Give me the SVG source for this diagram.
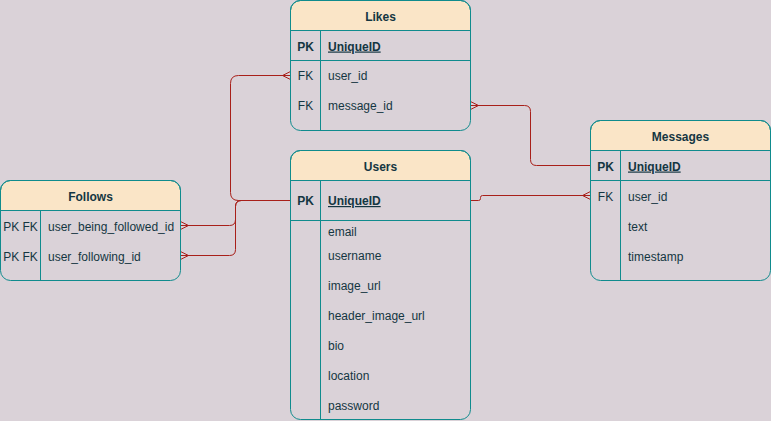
<svg xmlns="http://www.w3.org/2000/svg" width="771" height="421" viewBox="0 0 771 421">
<style>
.bg{fill:#DAD2D8}
.box{fill:none;stroke:#0F8B8D;stroke-width:1}
.hdr{fill:#FAE5C7;stroke:#0F8B8D;stroke-width:1}
.ln{stroke:#0F8B8D;stroke-width:1;fill:none}
text{font-family:"Liberation Sans",Arial,Helvetica,sans-serif;font-size:12px;fill:#143642}
.t{font-weight:bold;text-anchor:middle}
.k{text-anchor:middle}
.b{font-weight:bold}
.u{font-weight:bold;text-decoration:underline}
.e{fill:none;stroke:#A8201A;stroke-width:1}
</style>
<rect class="bg" x="0" y="0" width="771" height="421"/>

<g id="connectors">
  <path class="e" d="M290.5,200.5 L238.5,200.5 Q230.5,200.5 230.5,192.5 L230.5,83.5 Q230.5,75.5 238.5,75.5 L290.5,75.5"/>
  <path class="e" d="M290.5,71.5 L282.5,75.5 L290.5,79.5"/>
  <path class="e" d="M180.5,225.5 L229.5,225.5 Q235.5,225.5 235.5,219.5 L235.5,206.5 Q235.5,200.5 241.5,200.5 L290.5,200.5"/>
  <path class="e" d="M180.5,221.5 L188.5,225.5 L180.5,229.5"/>
  <path class="e" d="M180.5,255.5 L229.5,255.5 Q235.5,255.5 235.5,249.5 L235.5,206.5 Q235.5,200.5 241.5,200.5"/>
  <path class="e" d="M180.5,251.5 L188.5,255.5 L180.5,259.5"/>
  <path class="e" d="M470.5,105.5 L524.5,105.5 Q530.5,105.5 530.5,111.5 L530.5,159.5 Q530.5,165.5 536.5,165.5 L590.5,165.5"/>
  <path class="e" d="M470.5,101.5 L478.5,105.5 L470.5,109.5"/>
  <path class="e" d="M470.5,200.5 L478.5,200.5 Q480.5,200.5 480.5,198.5 L480.5,197.5 Q480.5,195.5 482.5,195.5 L590.5,195.5"/>
  <path class="e" d="M590.5,191.5 L582.5,195.5 L590.5,199.5"/>
</g>

<g id="likes">
  <path class="hdr" d="M290.5,30.5 L290.5,10.5 A10,10 0 0 1 300.5,0.5 L460.5,0.5 A10,10 0 0 1 470.5,10.5 L470.5,30.5 Z"/>
  <rect class="box" x="290.5" y="0.5" width="180" height="130" rx="10" ry="10"/>
  <path class="ln" d="M290.5,60.5 H470.5 M320.5,30.5 V130.5"/>
  <text class="t" x="380.5" y="20.5">Likes</text>
  <text class="k b" x="305.5" y="50.5">PK</text>
  <text class="u" x="328" y="50.5">UniqueID</text>
  <text class="k" x="305.5" y="80">FK</text>
  <text x="328" y="80">user_id</text>
  <text class="k" x="305.5" y="110">FK</text>
  <text x="328" y="110">message_id</text>
</g>

<g id="users">
  <path class="hdr" d="M290.5,180.5 L290.5,160.5 A10,10 0 0 1 300.5,150.5 L460.5,150.5 A10,10 0 0 1 470.5,160.5 L470.5,180.5 Z"/>
  <rect class="box" x="290.5" y="150.5" width="180" height="269" rx="10" ry="10"/>
  <path class="ln" d="M290.5,220.5 H470.5 M320.5,180.5 V419.5"/>
  <text class="t" x="380.5" y="170.5">Users</text>
  <text class="k b" x="305.5" y="205">PK</text>
  <text class="u" x="328" y="205">UniqueID</text>
  <text x="328" y="235.5">email</text>
  <text x="328" y="260">username</text>
  <text x="328" y="290">image_url</text>
  <text x="328" y="320">header_image_url</text>
  <text x="328" y="350">bio</text>
  <text x="328" y="380">location</text>
  <text x="328" y="410">password</text>
</g>

<g id="messages">
  <path class="hdr" d="M590.5,150.5 L590.5,130.5 A10,10 0 0 1 600.5,120.5 L760.5,120.5 A10,10 0 0 1 770.5,130.5 L770.5,150.5 Z"/>
  <rect class="box" x="590.5" y="120.5" width="180" height="160" rx="10" ry="10"/>
  <path class="ln" d="M590.5,180.5 H770.5 M620.5,150.5 V280.5"/>
  <text class="t" x="680.5" y="140.5">Messages</text>
  <text class="k b" x="605.5" y="170.5">PK</text>
  <text class="u" x="628" y="170.5">UniqueID</text>
  <text class="k" x="605.5" y="200.5">FK</text>
  <text x="628" y="200.5">user_id</text>
  <text x="628" y="230.5">text</text>
  <text x="628" y="260.5">timestamp</text>
</g>

<g id="follows">
  <path class="hdr" d="M0.5,210.5 L0.5,190.5 A10,10 0 0 1 10.5,180.5 L170.5,180.5 A10,10 0 0 1 180.5,190.5 L180.5,210.5 Z"/>
  <rect class="box" x="0.5" y="180.5" width="180" height="100" rx="10" ry="10"/>
  <path class="ln" d="M40.5,210.5 V280.5"/>
  <text class="t" x="90.5" y="200.5">Follows</text>
  <text class="k" x="20.5" y="230.5">PK FK</text>
  <text x="48" y="230.5">user_being_followed_id</text>
  <text class="k" x="20.5" y="260.5">PK FK</text>
  <text x="48" y="260.5">user_following_id</text>
</g>
</svg>
